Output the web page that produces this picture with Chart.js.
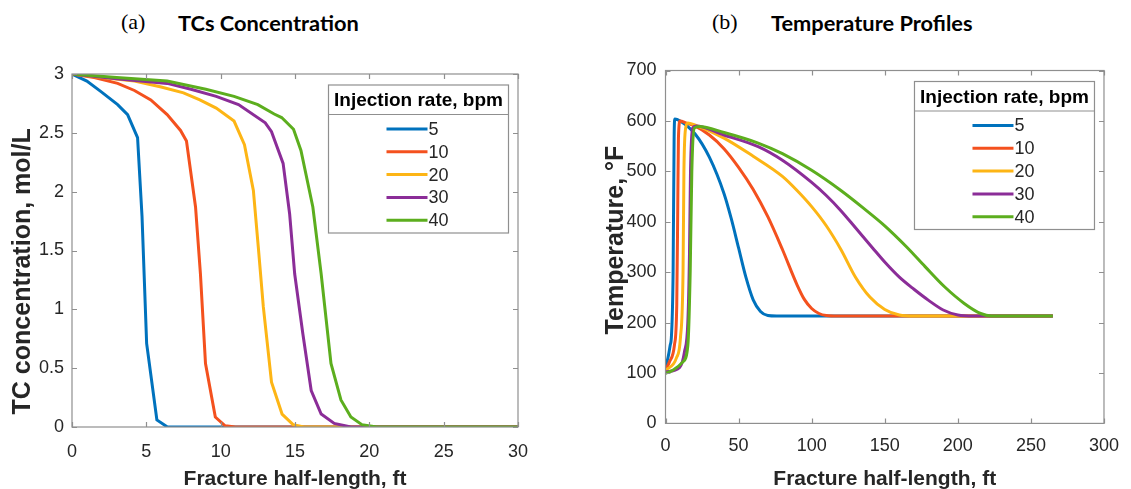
<!DOCTYPE html>
<html>
<head>
<meta charset="utf-8">
<script src="https://cdn.jsdelivr.net/npm/chart.js@4.4.0/dist/chart.umd.min.js"></script>
<style>
  body { margin: 0; background: #fff; width: 1131px; height: 489px; position: relative; overflow: hidden; }
  .wrap { position: absolute; top: 0; height: 489px; }
  #wa { left: 0; width: 565px; }
  #wb { left: 565px; width: 566px; }
  .tag { position: absolute; top: 9px; font-family: "Liberation Serif", serif; font-size: 22px; color: #000; }
  .name { position: absolute; top: 9px; font-family: Lato, "Open Sans", sans-serif; font-weight: bold; font-size: 21.8px; color: #000; white-space: nowrap; }
</style>
</head>
<body>
<div class="tag" style="left:121px">(a)</div>
<div class="name" style="left:178px">TCs Concentration</div>
<div class="tag" style="left:712px">(b)</div>
<div class="name" style="left:771px">Temperature Profiles</div>
<div class="wrap" id="wa"><canvas id="conc"></canvas></div>
<div class="wrap" id="wb"><canvas id="temp"></canvas></div>
<script>
// legend entries and line colours
var rates = ['5', '10', '20', '30', '40'];
var colors = ['#0072BD', '#F4511E', '#FDB515', '#8B2D98', '#5CAE1E'];

// (a) TC concentration (mol/L) vs fracture half-length (ft)
var concX5 = [0, 1.0, 1.95, 3.07, 3.74, 4.41, 4.71, 5.02, 5.71, 6.42, 30];
var concY5 = [3.0, 2.94, 2.85, 2.74, 2.655, 2.46, 1.79, 0.71, 0.06, 0.0, 0.0];
var concX10 = [0, 1.5, 3.07, 4.2, 5.3, 6.4, 7.3, 7.7, 8.31, 8.64, 8.98, 9.64, 10.3, 11, 30];
var concY10 = [3.0, 2.97, 2.92, 2.86, 2.78, 2.655, 2.52, 2.43, 1.87, 1.30, 0.54, 0.085, 0.01, 0, 0];
var concX20 = [0, 2, 4.2, 6, 7.5, 8.6, 9.7, 10.9, 11.6, 12.2, 12.53, 12.87, 13.42, 14.13, 14.87, 15.6, 30];
var concY20 = [3.0, 2.97, 2.94, 2.89, 2.84, 2.78, 2.71, 2.6, 2.40, 2.01, 1.53, 1.02, 0.38, 0.11, 0.02, 0, 0];
var concX30 = [0, 3, 6.4, 8, 9.7, 11.2, 13.0, 13.42, 14.2, 14.64, 14.98, 15.53, 16.09, 16.76, 17.64, 18.76, 30];
var concY30 = [3.0, 2.96, 2.92, 2.87, 2.81, 2.74, 2.585, 2.51, 2.24, 1.81, 1.30, 0.79, 0.31, 0.11, 0.03, 0, 0];
var concX40 = [0, 3, 6.4, 9, 10.9, 12.5, 13.6, 14.1, 14.9, 15.4, 16.2, 16.76, 17.42, 18.09, 18.76, 19.5, 20.5, 30];
var concY40 = [3.0, 2.97, 2.94, 2.87, 2.81, 2.74, 2.66, 2.63, 2.53, 2.35, 1.87, 1.30, 0.54, 0.23, 0.085, 0.02, 0, 0];

// (b) temperature (F) vs fracture half-length (ft)
var tempX5 = [0, 1.6, 3.2, 4.1, 5.2, 5.9, 6.4, 10, 20, 30, 40, 45, 50, 55, 60, 65, 70, 76, 265];
var tempY5 = [114, 129, 155, 175, 301, 566, 604, 600, 575, 528, 456, 406, 348, 290, 245, 222, 214, 213, 213];
var tempX10 = [0, 2.7, 6.1, 7.7, 8.4, 8.85, 10, 14, 20, 30, 40, 50, 60, 70, 80, 90, 95, 100, 105, 110, 118, 265];
var tempY10 = [105, 122, 155, 235, 433, 566, 600, 596, 590, 572, 545, 508, 464, 410, 345, 275, 246, 228, 218, 214, 213, 213];
var tempX20 = [0, 7.5, 10.2, 12, 12.6, 13.8, 15.3, 20, 40, 60, 80, 90, 100, 110, 120, 130, 140, 150, 160, 170, 265];
var tempY20 = [105, 130, 169, 301, 499, 586, 596, 592, 566, 530, 490, 462, 430, 392, 345, 290, 250, 226, 215, 213, 213];
var tempX30 = [0, 9.7, 13, 15.3, 16.4, 17.1, 18.6, 20.9, 40, 63.4, 80, 100, 110, 120, 130, 141.7, 150, 160, 170, 180, 190, 200, 211, 265];
var tempY30 = [102, 111, 142, 202, 334, 499, 586, 590, 572, 549, 522, 478, 452, 422, 388, 348, 320, 290, 266, 244, 225, 215, 213, 213];
var tempX40 = [0, 5.3, 11.9, 15.3, 16.9, 18, 19.8, 23.2, 40, 63.4, 80, 100, 120, 135, 150, 165, 177.6, 190.9, 204.4, 215.6, 223, 265];
var tempY40 = [99, 106, 122, 155, 301, 499, 586, 589, 577, 556, 535, 502, 462, 428, 392, 350, 311, 271, 238, 218, 213, 213];

var concX = [concX5, concX10, concX20, concX30, concX40];
var concY = [concY5, concY10, concY20, concY30, concY40];
var tempX = [tempX5, tempX10, tempX20, tempX30, tempX40];
var tempY = [tempY5, tempY10, tempY20, tempY30, tempY40];

var sans = '"Liberation Sans", Arial, sans-serif';
var ink = '#262626';

function makeSets(xs, ys, smooth) {
    return rates.map(function(r, i) {
        return {
            label: r,
            data: xs[i].map(function(x, j) { return {x: x, y: ys[i][j]}; }),
            borderColor: colors[i],
            borderWidth: 3,
            pointRadius: 0,
            fill: false,
            order: rates.length - 1 - i,   // last series on top, like matlab
            cubicInterpolationMode: smooth ? 'monotone' : 'default',
            tension: smooth ? 0.4 : 0
        };
    });
}

// box round the axes with inward ticks on all four sides
var framePlugin = {
    id: 'frame',
    afterDatasetsDraw: function(chart) {
        var ctx = chart.ctx, a = chart.chartArea;
        var sx = chart.scales.x, sy = chart.scales.y;
        var tl = 5;
        ctx.save();
        ctx.strokeStyle = '#8f8f8f';
        ctx.lineWidth = 1.2;
        ctx.beginPath();
        sx.ticks.forEach(function(t) {
            var px = Math.round(sx.getPixelForValue(t.value)) + 0.5;
            ctx.moveTo(px, a.bottom); ctx.lineTo(px, a.bottom - tl);
            ctx.moveTo(px, a.top); ctx.lineTo(px, a.top + tl);
        });
        sy.ticks.forEach(function(t) {
            var py = Math.round(sy.getPixelForValue(t.value)) + 0.5;
            ctx.moveTo(a.left, py); ctx.lineTo(a.left + tl, py);
            ctx.moveTo(a.right, py); ctx.lineTo(a.right - tl, py);
        });
        ctx.stroke();
        ctx.strokeRect(a.left, a.top, a.right - a.left, a.bottom - a.top);
        ctx.restore();
    }
};

// matlab style legend box with a title row
var boxLegendPlugin = {
    id: 'boxLegend',
    afterDraw: function(chart) {
        var o = chart.options.plugins.boxLegend;
        var ctx = chart.ctx, a = chart.chartArea;
        var w = 180, h = 148;
        var left = a.right - o.right - w, top = a.top + o.top;
        ctx.save();
        ctx.fillStyle = '#fff';
        ctx.fillRect(left, top, w, h);
        ctx.strokeStyle = '#8f8f8f';
        ctx.lineWidth = 1.2;
        ctx.strokeRect(left, top, w, h);
        ctx.beginPath();
        ctx.moveTo(left, top + 29.5); ctx.lineTo(left + w, top + 29.5);
        ctx.stroke();
        ctx.fillStyle = '#000';
        ctx.textBaseline = 'middle';
        ctx.textAlign = 'center';
        ctx.font = 'bold 19px ' + sans;
        ctx.fillText('Injection rate, bpm', left + w / 2, top + 16);
        ctx.textAlign = 'left';
        ctx.font = '18px ' + sans;
        chart.data.datasets.forEach(function(ds, i) {
            var yy = top + 44 + i * 22.8;
            ctx.strokeStyle = ds.borderColor;
            ctx.lineWidth = 3;
            ctx.beginPath();
            ctx.moveTo(left + 58, yy); ctx.lineTo(left + 99, yy);
            ctx.stroke();
            ctx.fillStyle = ink;
            ctx.fillText(ds.label, left + 100, yy + 1);
        });
        ctx.restore();
    }
};

function plain(v) { return String(Math.round(v * 10) / 10); }

function makeChart(id, sets, xr, yr, yTitle, geo) {
    return new Chart(document.getElementById(id).getContext('2d'), {
        type: 'line',
        data: {datasets: sets},
        plugins: [framePlugin, boxLegendPlugin],
        options: {
            responsive: true,
            maintainAspectRatio: false,
            animation: false,
            layout: {padding: {left: 0, right: geo.padRight, top: geo.padTop, bottom: 0}},
            scales: {
                x: {
                    type: 'linear',
                    min: xr[0], max: xr[1],
                    afterFit: function(s) { s.height = geo.xHeight; },
                    grid: {display: false, drawTicks: false},
                    border: {display: false},
                    ticks: {stepSize: xr[2], color: ink, padding: geo.xTickPad, callback: plain, font: {family: sans, size: 18}},
                    title: {display: true, text: 'Fracture half-length, ft', color: ink,
                            font: {family: sans, size: 21, weight: 'bold'}, padding: {top: 0, bottom: geo.xTitlePad}}
                },
                y: {
                    min: yr[0], max: yr[1],
                    afterFit: function(s) { s.width = geo.yWidth; },
                    grid: {display: false, drawTicks: false},
                    border: {display: false},
                    ticks: {stepSize: yr[2], color: ink, padding: geo.yTickPad, callback: plain, font: {family: sans, size: 18}},
                    title: {display: true, text: yTitle, color: ink,
                            font: {family: sans, size: 25, weight: 'bold'}, padding: {top: geo.yTitlePad, bottom: 0}}
                }
            },
            plugins: {
                legend: {display: false},
                tooltip: {enabled: false},
                boxLegend: {right: 9.5, top: 11}
            }
        }
    });
}

// the spaces nudge the rotated titles along the axis, as in the figure
makeChart('conc', makeSets(concX, concY, false), [0, 30, 5], [0, 3, 0.5],
    'TC concentration, mol/L      ',
    {padRight: 47, padTop: 74, xHeight: 62, yWidth: 72, xTickPad: 14, xTitlePad: -3, yTickPad: 8, yTitlePad: 8.5});

makeChart('temp', makeSets(tempX, tempY, true), [0, 300, 50], [0, 700, 100],
    '  Temperature, \u00B0F',
    {padRight: 20, padTop: 70.5, xHeight: 65.6, yWidth: 100.5, xTickPad: 12, xTitlePad: -3, yTickPad: 9, yTitlePad: 36});
</script>
</body>
</html>
